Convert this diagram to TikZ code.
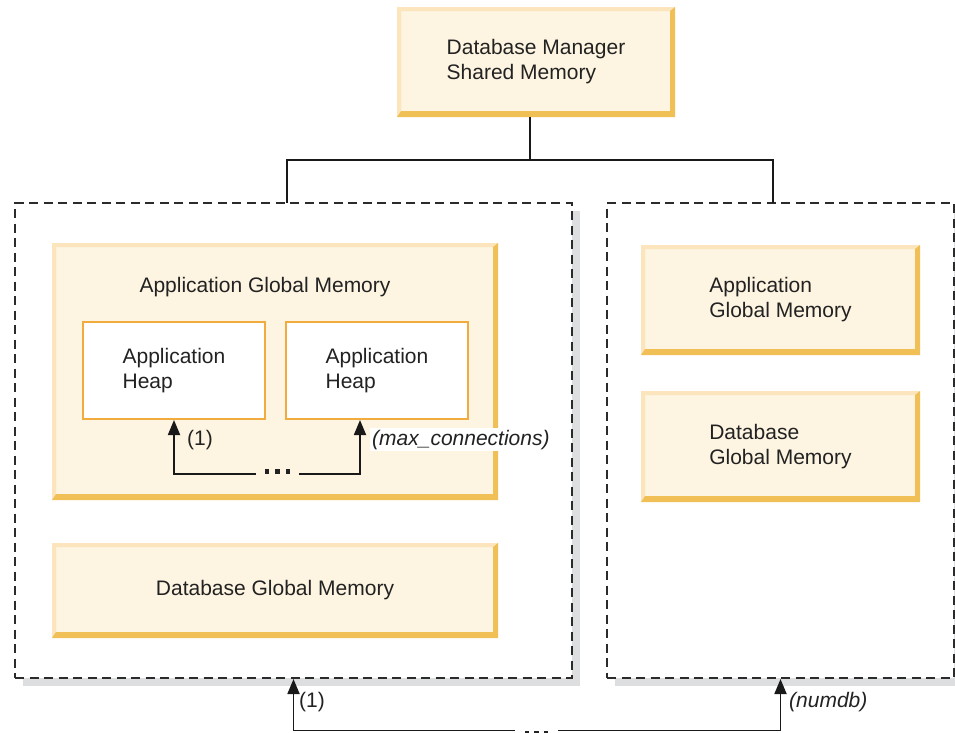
\documentclass[tikz,border=0pt]{standalone}
\usepackage{fontspec}
\setmainfont{Liberation Sans}
\usetikzlibrary{arrows.meta,calc,shadows}
\definecolor{boxfill}{HTML}{FDF5E1}
\definecolor{bevlight}{HTML}{FCE5BD}
\definecolor{bevdark}{HTML}{F0BF55}
\definecolor{heapc}{HTML}{F2AC3E}
\definecolor{shadowc}{HTML}{DDDEE0}
\definecolor{dashc}{HTML}{2B2B2B}
\definecolor{txt}{HTML}{222222}
\begin{document}
\begin{tikzpicture}[x=1pt,y=-1pt,
  every node/.style={font=\fontsize{21}{25}\selectfont, text=txt},
  bevel/.style={fill=boxfill, inner sep=0pt, align=left,
    path picture={
      \coordinate (pnw) at (path picture bounding box.north west);
      \coordinate (pse) at (path picture bounding box.south east);
      \fill[bevlight] (pnw) -- (pnw -| pse) -- ($(pnw -| pse)+(-5pt,-4pt)$)
        -- ($(pnw)+(4pt,-4pt)$) -- ($(pse -| pnw)+(4pt,6pt)$) -- (pse -| pnw) -- cycle;
      \fill[bevdark] (pse -| pnw) -- (pse) -- (pnw -| pse) -- ($(pnw -| pse)+(-5pt,-4pt)$)
        -- ($(pse)+(-5pt,6pt)$) -- ($(pse -| pnw)+(4pt,6pt)$) -- cycle;
    }},
  heapbox/.style={draw=heapc, line width=2pt, fill=white, inner sep=0pt, align=left,
    minimum width=182pt, minimum height=97pt},
  region/.style={draw=dashc, line width=2pt, dash pattern=on 9pt off 5.5pt, fill=white,
    inner sep=0pt, minimum height=475pt,
    drop shadow={shadow xshift=8pt, shadow yshift=-8pt, fill=shadowc, opacity=1}},
  conn/.style={line width=1.8pt, draw=black!90},
  arr/.style={line width=1.8pt, draw=black!90, -{Triangle[length=15pt,width=12pt]}},
  dotsnode/.style={inner xsep=9pt, inner ysep=0pt},
  lbl/.style={anchor=base west, inner sep=1pt},
]
\useasboundingbox (0,0) rectangle (955,732);
\clip (0,0) rectangle (955,732);

% top box
\node[bevel, minimum width=278pt, minimum height=110pt] (top) at (536,62)
  {Database Manager\\Shared Memory};

% dashed regions
\node[region, minimum width=557pt] (L) at (293.5,440.5) {};
\node[region, minimum width=347pt] (R) at (780.5,440.5) {};

% connector from top
\coordinate (j) at (530,160);
\coordinate (jl) at (287,203);
\coordinate (jr) at (773,203);
\draw[conn] (j |- top.south) -- (j);
\draw[conn] (j) -| (jl);
\draw[conn] (j) -| (jr);

% left region contents
\node[bevel, minimum width=446pt, minimum height=257pt] (agm) at (275,371.5) {};
\node[anchor=base, inner sep=0pt] (agmtitle) at (265,292) {Application Global Memory};
\node[heapbox] (heap1) at (174,370.5) {Application\\Heap};
\node[heapbox] (heap2) at (377,370.5) {Application\\Heap};
\node[bevel, minimum width=446pt, minimum height=95pt] (dgm) at (275,590.5)
  {Database Global Memory};

% right region contents
\node[bevel, minimum width=279pt, minimum height=110pt] (ragm) at (780.5,300)
  {Application\\Global Memory};
\node[bevel, minimum width=279pt, minimum height=111pt] (rdgm) at (780.5,446.5)
  {Database\\Global Memory};

% inner arrows
\node[dotsnode] (dots1) at (277.5,471.5)
  {\rule{4.5pt}{4.5pt}\hspace{6pt}\rule{4.5pt}{4.5pt}\hspace{6pt}\rule{4.5pt}{4.5pt}};
\coordinate (h2a) at ([xshift=-17pt]heap2.south);
\draw[arr] (dots1.west |- 0,474) -| (heap1.south);
\draw[arr] (dots1.east |- 0,474) -| (h2a);
\node[lbl] (l1) at (186,445) {(1)};
\node[lbl, fill=white, inner sep=2pt] (lmax) at (370,445) {\itshape(max\_connections)};

% bottom arrows
\node[dotsnode, inner xsep=10pt] (dots2) at (536.5,733)
  {\rule{4.5pt}{4.5pt}\hspace{5pt}\rule{4.5pt}{4.5pt}\hspace{5pt}\rule{4.5pt}{4.5pt}};
\draw[arr] (dots2.west |- 0,730.5) -| (L.south);
\draw[arr] (dots2.east |- 0,730.5) -| (R.south);
\node[lbl] (l2) at (298,707) {(1)};
\node[lbl] (lnum) at (788,707) {\itshape(numdb)};
\end{tikzpicture}
\end{document}
